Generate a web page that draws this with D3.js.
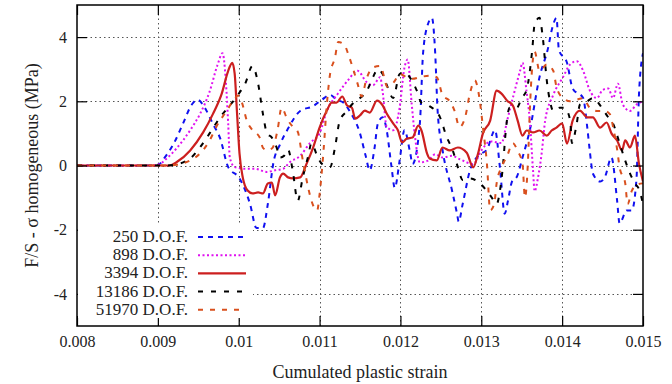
<!DOCTYPE html>
<html>
<head>
<meta charset="utf-8">
<script src="https://cdn.jsdelivr.net/npm/d3@7"></script>
<style>
  body { margin: 0; background: #fff; }
  svg { display: block; font-family: "Liberation Serif", "DejaVu Serif", serif; }
</style>
</head>
<body>
<div id="chart"></div>
<script>
// tick values
const xTicks = [0.008, 0.009, 0.010, 0.011, 0.012, 0.013, 0.014, 0.015];
const yTicks = [-4, -2, 0, 2, 4];

// 250 D.O.F.
const blueStrain = [0.008, 0.0089, 0.009, 0.0091, 0.0092, 0.00931, 0.00942, 0.00949, 0.00958, 0.00968, 0.00977, 0.00987,
  0.01001, 0.01014, 0.01022, 0.0103, 0.01036, 0.01043, 0.01051, 0.01061, 0.01076, 0.01092, 0.01103, 0.01113, 0.01121,
  0.0113, 0.01137, 0.0115, 0.01157, 0.01162, 0.01168, 0.01172, 0.01178, 0.01183, 0.01189, 0.01193, 0.01199, 0.01205,
  0.01212, 0.01215, 0.01224, 0.01228, 0.01234, 0.01239, 0.01243, 0.01246, 0.01252, 0.01264, 0.0127, 0.01272, 0.01277,
  0.01286, 0.01296, 0.01307, 0.01317, 0.01323, 0.01329, 0.01333, 0.01338, 0.01344, 0.01351, 0.0136, 0.01372, 0.01382,
  0.01389, 0.01393, 0.01396, 0.01406, 0.01413, 0.01426, 0.01431, 0.01434, 0.01438, 0.01447, 0.01453, 0.01461, 0.01468,
  0.01471, 0.0148, 0.01486, 0.01492, 0.01495, 0.015];
const blueStress = [0, 0, 0.02, 0.3, 0.7, 1.3, 1.9, 2.05, 1.8, 1.3, 0.85, -0.05,
  -0.4, -1.2, -1.95, -1.95, -1.2, 0.1, 0.65, 1.15, 1.7, 1.85, 2.05, 2.2, 2.05,
  1.95, 1.7, 1.0, 0.3, -0.15, 0.55, 1.3, 1.5, 1.1, -0.05, -0.7, 0.15, 1.1,
  0.4, 0.05, 1.3, 3.5, 4.4, 4.6, 3.5, 1.7, 0.5, -0.8, -1.5, -1.75, -1.2,
  -0.15, 0.3, 0.5, 1.1, -0.05, -1.5, -1.1, -0.5, -0.35, 0.25, 1.1, 2.75, 3.6,
  4.4, 4.6, 3.6, 3.2, 2.4, 2.1, 1.2, 0.5, -0.25, -0.5, -0.35, 0.25, -1.1,
  -1.8, -1.4, -1.4, -0.4, 2.2, 3.5];

// 898 D.O.F.
const magentaStrain = [0.008, 0.0089, 0.009, 0.00911, 0.00923, 0.0094, 0.00952, 0.00964, 0.00974, 0.0098, 0.00984, 0.00987,
  0.00989, 0.00995, 0.01008, 0.0102, 0.01035, 0.01045, 0.01055, 0.01063, 0.01076, 0.01088, 0.011, 0.01109, 0.01123,
  0.01135, 0.01147, 0.01158, 0.01166, 0.01175, 0.01178, 0.01183, 0.01191, 0.01199, 0.01205, 0.01209, 0.01214, 0.01218,
  0.01224, 0.01234, 0.01243, 0.01252, 0.01264, 0.01273, 0.0129, 0.01301, 0.01311, 0.01325, 0.01332, 0.0134, 0.01348,
  0.01351, 0.01356, 0.0136, 0.01364, 0.01366, 0.0137, 0.01375, 0.01379, 0.01389, 0.01401, 0.0141, 0.01418, 0.01426,
  0.01434, 0.01443, 0.0145, 0.01457, 0.01463, 0.01469, 0.01475, 0.01484, 0.01492, 0.015];
const magentaStress = [0, 0, 0.02, 0.22, 0.53, 1.1, 1.6, 2.3, 3.15, 3.5, 2.65, 1.3,
  0.25, -0.05, -0.1, -0.1, -0.2, -0.15, -0.1, 0.1, 0.3, 0.7, 1.0, 1.7, 2.25,
  2.65, 2.95, 2.6, 2.5, 2.75, 2.3, 1.2, 1.1, 1.8, 3.05, 3.3, 1.9, 0.9,
  0.1, 0.15, 0.35, 0.25, 0.3, 0.2, 0.05, 0.5, 0.75, 0.7, 1.4, 2.2, 2.95,
  3.2, 2.3, 1.4, -0.15, -0.8, -0.4, 0.45, 1.4, 2.2, 2.75, 3.15, 3.25, 2.95,
  2.35, 2.1, 2.35, 2.4, 2.1, 2.55, 1.9, 1.7, 1.9, 2.0];

// 3394 D.O.F.
const redStrain = [0.008, 0.00915, 0.00923, 0.0094, 0.00956, 0.00968, 0.00979, 0.00987, 0.00992, 0.00995, 0.00998, 0.01001,
  0.01005, 0.01011, 0.01017, 0.01024, 0.0103, 0.01036, 0.01041, 0.01045, 0.01051, 0.01055, 0.01061, 0.01067, 0.01076,
  0.01084, 0.01092, 0.011, 0.01109, 0.01115, 0.01121, 0.01128, 0.01134, 0.0114, 0.01144, 0.0115, 0.01156, 0.01162,
  0.01171, 0.01178, 0.01183, 0.01191, 0.01197, 0.01202, 0.01208, 0.01215, 0.01222, 0.01226, 0.01233, 0.01236, 0.01245,
  0.01252, 0.01261, 0.01271, 0.01282, 0.0129, 0.01296, 0.01302, 0.01311, 0.01319, 0.01325, 0.01332, 0.01339, 0.01345,
  0.01351, 0.01356, 0.01364, 0.01372, 0.01381, 0.01387, 0.01393, 0.014, 0.01406, 0.01413, 0.01422, 0.01431, 0.01438,
  0.01447, 0.01455, 0.01461, 0.01468, 0.01474, 0.01478, 0.01484, 0.0149, 0.01495, 0.015];
const redStress = [0, 0, 0.1, 0.47, 1.03, 1.6, 2.24, 2.95, 3.2, 2.86, 1.6, 0.37,
  -0.37, -0.78, -0.87, -0.84, -0.87, -0.56, -0.53, -0.93, -0.37, -0.25, -0.37, -0.4, -0.37,
  0.06, 0.56, 1.18, 1.71, 1.96, 1.96, 2.15, 1.87, 1.8, 1.46, 1.56, 1.71, 1.65,
  2.02, 1.87, 1.62, 1.31, 1.09, 0.72, 0.84, 0.87, 1.24, 1.09, 0.37, 0.22, 0.16,
  0.56, 0.47, 0.56, 0.4, -0.06, 0.37, 1.0, 1.4, 2.33, 2.24, 2.02, 1.87, 1.4,
  0.93, 1.09, 1.03, 1.09, 0.93, 1.09, 1.18, 1.31, 0.68, 1.4, 1.71, 1.5, 1.5,
  1.18, 1.34, 1.0, 0.78, 0.47, 0.78, 0.56, 0.93, 0.06, -0.5];

// 13186 D.O.F.
const blackStrain = [0.008, 0.00909, 0.00919, 0.0094, 0.00952, 0.00964, 0.00977, 0.00989, 0.00999, 0.01008, 0.01017, 0.01024,
  0.0103, 0.01035, 0.01041, 0.01047, 0.01051, 0.01056, 0.01061, 0.01067, 0.01073, 0.01079, 0.01086, 0.0109, 0.01097,
  0.01103, 0.01113, 0.01119, 0.01125, 0.01134, 0.0114, 0.0115, 0.01158, 0.01166, 0.01172, 0.01178, 0.01184, 0.01191,
  0.01199, 0.01205, 0.01214, 0.0122, 0.01226, 0.01236, 0.01249, 0.01257, 0.01265, 0.01271, 0.01277, 0.01286, 0.01298,
  0.01313, 0.01319, 0.01323, 0.01327, 0.0133, 0.01335, 0.01344, 0.0135, 0.01356, 0.01363, 0.01366, 0.01372, 0.01376,
  0.01381, 0.01385, 0.01389, 0.01397, 0.01403, 0.0141, 0.01412, 0.01418, 0.01422, 0.01431, 0.01438, 0.01449, 0.01457,
  0.01463, 0.01471, 0.01478, 0.01484, 0.0149, 0.01496, 0.015];
const blackStress = [0, 0, 0.02, 0.22, 0.56, 1.0, 1.5, 1.87, 2.2, 2.55, 3.1, 2.55,
  1.6, 1.0, 0.87, 0.55, 0.25, 0.3, 0.5, -0.2, -1.1, -0.4, 0.3, 0.7, 0.3,
  0.05, -0.05, 0.55, 1.4, 1.7, 1.9, 2.1, 2.3, 2.75, 3.0, 2.85, 2.45, 2.1,
  2.85, 2.9, 2.65, 2.35, 1.95, 1.85, 1.5, 0.9, 0.45, -0.05, -0.45, -0.4, -0.55,
  -1.0, -1.2, -0.8, 0.05, 1.0, 1.8, 1.8, 2.1, 2.35, 3.6, 4.4, 4.6, 4.0,
  2.65, 2.0, 1.7, 1.8, 1.8, 1.4, 0.7, 1.3, 1.9, 2.0, 2.1, 1.8, 1.5,
  1.3, 0.7, 0.15, -0.25, -0.55, -0.8, -1.2];

// 51970 D.O.F.
const orangeStrain = [0.008, 0.00915, 0.00923, 0.0094, 0.00952, 0.00964, 0.00973, 0.00985, 0.00995, 0.00999, 0.01004, 0.0101,
  0.01017, 0.01026, 0.0103, 0.01036, 0.01042, 0.01048, 0.01053, 0.0106, 0.01067, 0.01073, 0.01079, 0.01086, 0.0109,
  0.01097, 0.011, 0.01105, 0.01109, 0.01113, 0.01119, 0.01123, 0.01131, 0.01135, 0.01141, 0.01147, 0.01152, 0.01158,
  0.01166, 0.01175, 0.01184, 0.01192, 0.01199, 0.01208, 0.01215, 0.01224, 0.01236, 0.01245, 0.01252, 0.01261, 0.01267,
  0.01273, 0.0128, 0.01286, 0.01292, 0.01298, 0.01302, 0.01307, 0.01311, 0.01316, 0.01319, 0.01325, 0.01332, 0.01339,
  0.01345, 0.01351, 0.01354, 0.01358, 0.0136, 0.01366, 0.01372, 0.01381, 0.01389, 0.01393, 0.01401, 0.0141, 0.01418,
  0.01426, 0.01434, 0.01443, 0.01453, 0.01459, 0.01463, 0.01468, 0.01471, 0.01478, 0.01481, 0.01486, 0.01492, 0.015];
const orangeStress = [0, 0, 0.02, 0.16, 0.37, 0.78, 1.24, 1.7, 2.08, 2.18, 1.96, 1.4,
  1.1, 0.87, 0.55, 0.47, 0.56, 1.1, 1.8, 1.45, 1.2, 1.05, 0.2, -0.7, -1.1,
  -1.4, -0.9, 0.5, 1.9, 2.85, 3.35, 3.85, 3.75, 3.5, 3.05, 2.55, 2.15, 2.7,
  3.05, 3.1, 2.45, 2.6, 2.85, 2.75, 2.7, 2.75, 2.8, 2.75, 2.2, 2.0, 1.7,
  1.2, 1.5, 2.25, 2.65, 2.05, 1.2, 0.05, -1.4, -1.2, -0.55, -0.05, 0.3, 0.7,
  0.45, 0.05, -1.0, 0.3, 1.7, 3.55, 2.95, 3.15, 2.95, 2.45, 2.1, 2.0, 2.05,
  2.1, 1.8, 1.7, 1.7, 1.6, 1.2, 0.5, -0.05, -0.55, -1.2, -0.8, -0.6, -0.55];

const seriesNames = ['250 D.O.F.', '898 D.O.F.', '3394 D.O.F.', '13186 D.O.F.', '51970 D.O.F.'];
const seriesColors = ['#1010f0', '#e010f0', '#cc1f1f', '#000000', '#d9501e'];
const seriesDash = ['5,5', '2,2.5', null, '5,8', '5,7'];
const seriesWidth = [2, 2, 2.2, 2, 2];

const series = [
  [blueStrain, blueStress],
  [magentaStrain, magentaStress],
  [redStrain, redStress],
  [blackStrain, blackStress],
  [orangeStrain, orangeStress]
].map(([xs, ys], i) => ({
  name: seriesNames[i],
  color: seriesColors[i],
  dash: seriesDash[i],
  width: seriesWidth[i],
  points: xs.map((x, j) => [x, ys[j]])
}));

const W = 672, H = 384;
const margin = { top: 5, right: 29, bottom: 58, left: 77 };

const svg = d3.select('#chart').append('svg')
  .attr('width', W)
  .attr('height', H);

const x = d3.scaleLinear().domain([0.008, 0.015]).range([margin.left, W - margin.right]);
const y = d3.scaleLinear().domain([-5, 5]).range([H - margin.bottom, margin.top]);

// grid
const grid = svg.append('g').attr('stroke', '#555').attr('stroke-width', 1).attr('stroke-dasharray', '1.5,3');
grid.selectAll('.vg').data(xTicks.slice(1, -1)).enter().append('line')
  .attr('x1', d => Math.round(x(d)) + 0.5).attr('x2', d => Math.round(x(d)) + 0.5)
  .attr('y1', y.range()[0]).attr('y2', y.range()[1]);
grid.selectAll('.hg').data(yTicks).enter().append('line')
  .attr('y1', d => Math.round(y(d)) + 0.5).attr('y2', d => Math.round(y(d)) + 0.5)
  .attr('x1', x.range()[0]).attr('x2', x.range()[1]);

// curves
svg.append('clipPath').attr('id', 'clip').append('rect')
  .attr('x', x.range()[0]).attr('y', y.range()[1])
  .attr('width', x.range()[1] - x.range()[0]).attr('height', y.range()[0] - y.range()[1]);

const line = d3.line()
  .x(d => x(d[0]))
  .y(d => y(d[1]))
  .curve(d3.curveMonotoneX);

svg.append('g').attr('clip-path', 'url(#clip)')
  .selectAll('path').data(series).enter().append('path')
  .attr('d', d => line(d.points))
  .attr('fill', 'none')
  .attr('stroke', d => d.color)
  .attr('stroke-width', d => d.width)
  .attr('stroke-dasharray', d => d.dash)
  .attr('stroke-linejoin', 'round');

// axes, ticks on all four sides pointing inward
const fmtX = d => String(+d.toFixed(3));
const fmtY = d => String(d);

const axisStyle = g => {
  g.select('.domain').remove();
  g.selectAll('.tick line').attr('stroke', '#000').attr('stroke-width', 1.2);
  g.selectAll('.tick text').attr('fill', '#222').style('font-size', '16px')
    .style('font-family', '"Liberation Serif", serif');
};

svg.append('g')
  .attr('transform', `translate(0,${y.range()[0]})`)
  .call(d3.axisBottom(x).tickValues(xTicks).tickSize(-10).tickPadding(10).tickFormat(fmtX))
  .call(axisStyle);
svg.append('g')
  .attr('transform', `translate(0,${y.range()[1]})`)
  .call(d3.axisTop(x).tickValues(xTicks).tickSize(-10).tickFormat(''))
  .call(axisStyle);
svg.append('g')
  .attr('transform', `translate(${x.range()[0]},0)`)
  .call(d3.axisLeft(y).tickValues(yTicks).tickSize(-10).tickPadding(10).tickFormat(fmtY))
  .call(axisStyle);
svg.append('g')
  .attr('transform', `translate(${x.range()[1]},0)`)
  .call(d3.axisRight(y).tickValues(yTicks).tickSize(-10).tickFormat(''))
  .call(axisStyle);

// legend
const legend = svg.append('g');
legend.append('rect')
  .attr('x', x.range()[0] + 1).attr('y', 225)
  .attr('width', 175).attr('height', 93)
  .attr('fill', '#fff');
const rows = legend.selectAll('.row').data(series).enter().append('g')
  .attr('transform', (d, i) => `translate(0,${242 + i * 18.2})`);
rows.append('text')
  .attr('x', 188).attr('y', 0)
  .attr('text-anchor', 'end')
  .style('font-size', '17px')
  .attr('fill', '#222')
  .text(d => d.name);
rows.append('line')
  .attr('x1', 198).attr('x2', 246)
  .attr('y1', -5).attr('y2', -5)
  .attr('stroke', d => d.color)
  .attr('stroke-width', d => d.width)
  .attr('stroke-dasharray', d => d.dash);

// frame
svg.append('rect')
  .attr('x', x.range()[0]).attr('y', y.range()[1])
  .attr('width', x.range()[1] - x.range()[0]).attr('height', y.range()[0] - y.range()[1])
  .attr('fill', 'none').attr('stroke', '#000').attr('stroke-width', 1.5);

// axis titles
svg.append('text')
  .attr('x', (x.range()[0] + x.range()[1]) / 2).attr('y', 378)
  .attr('text-anchor', 'middle')
  .style('font-size', '18px').attr('fill', '#222')
  .text('Cumulated plastic strain');
svg.append('text')
  .attr('transform', `translate(38,${(y.range()[0] + y.range()[1]) / 2}) rotate(-90)`)
  .attr('text-anchor', 'middle')
  .style('font-size', '18px').attr('fill', '#222')
  .text('F/S - σ homogeneous (MPa)');
</script>
</body>
</html>
